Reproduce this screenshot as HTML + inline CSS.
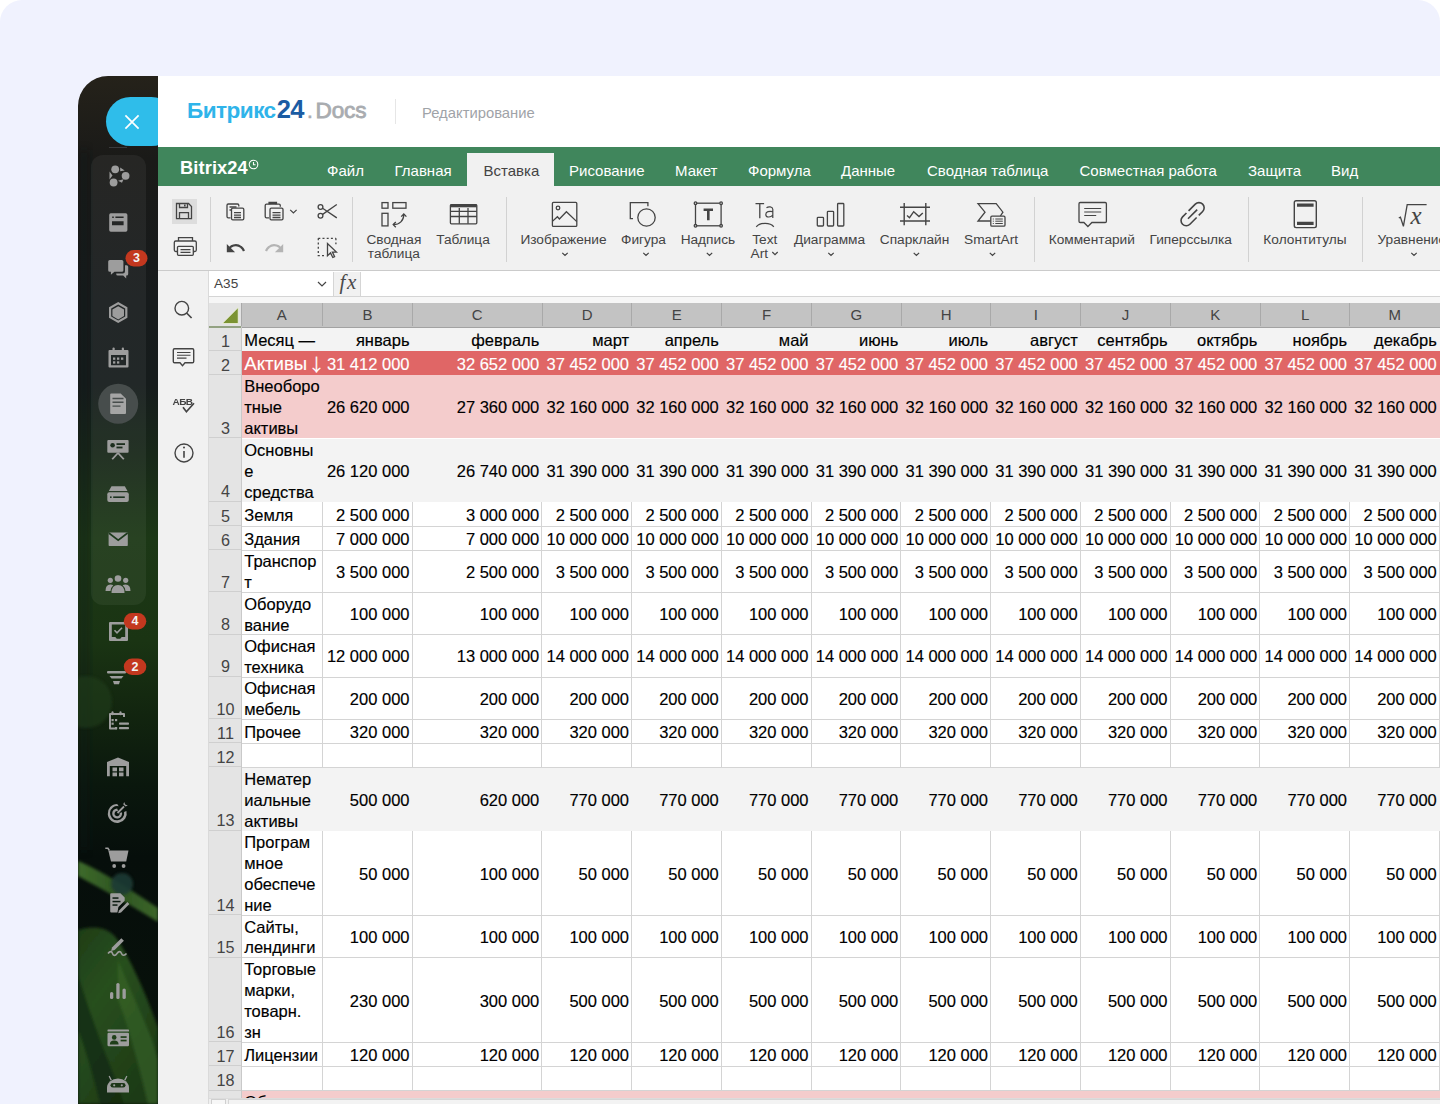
<!DOCTYPE html>
<html lang="ru">
<head>
<meta charset="utf-8">
<title>Битрикс24.Docs — Редактирование</title>
<style>
*{box-sizing:border-box}
html,body{margin:0;padding:0}
body{width:1440px;height:1104px;overflow:hidden;background:#fff;position:relative;font-family:"Liberation Sans",Arial,sans-serif}
.abs{position:absolute}
#bg{position:absolute;left:0;top:0;width:1440px;height:1104px;background:#f0f2fe;border-radius:22px 22px 0 0}
/* sidebar */
#sb{position:absolute;left:78px;top:76px;width:90px;height:1028px;border-top-left-radius:30px;overflow:hidden;
 background:#181b1d}
.badge{position:absolute;width:22px;height:16.5px;color:#f3f3f3;font-size:12.5px;font-weight:bold;text-align:center;line-height:16.5px}
#close{position:absolute;left:106px;top:97px;width:70px;height:49px;border-radius:24.5px;background:#2fbdea}
#app{position:absolute;left:158px;top:76px;width:1282px;height:1028px;background:#fff;overflow:hidden}
#hdr-logo{position:absolute;left:187px;top:94.5px;font-size:22.6px;font-weight:bold;white-space:nowrap;line-height:28px}
#hdr-sep{position:absolute;left:395px;top:99px;width:1px;height:25px;background:#e6e6e6}
#hdr-mode{position:absolute;left:422px;top:104px;font-size:14.8px;color:#9fa3a8;white-space:nowrap;line-height:18px}
#green{position:absolute;left:158px;top:147px;width:1282px;height:39px;background:#40865c}
#tb{position:absolute;left:158px;top:186px;width:1282px;height:85px;background:#f1f1f1;border-bottom:1px solid #cbcbcb}
.tab{position:absolute;top:161.5px;font-size:15px;color:#fff;white-space:nowrap;line-height:18px}
#tab-act{position:absolute;left:467px;top:152.5px;width:87px;height:34px;background:#f1f1f1}
.tlab{position:absolute;margin-top:1px;font-size:13.7px;color:#444;white-space:nowrap;line-height:13.6px;text-align:center}
.tsep{position:absolute;top:197px;width:1px;height:65px;background:#d2d2d2}
.chev{position:absolute}
svg{position:absolute;overflow:visible}
/* left panel */
#lp{position:absolute;left:158px;top:271px;width:51px;height:833px;background:#f1f1f1;border-right:1px solid #dadada}
/* formula bar */
#fbar{position:absolute;left:209px;top:271px;width:1231px;height:26px;background:#fff;border-bottom:1px solid #d5d5d5}
#namebox{position:absolute;left:209px;top:272px;width:125px;height:24px;background:#fff;border-right:1px solid #d5d5d5}
#fxbox{position:absolute;left:334px;top:272px;width:27px;height:24px;background:#f1f1f1;border-right:1px solid #d5d5d5}
#strip{position:absolute;left:209px;top:297px;width:1231px;height:5.5px;background:#f6f6f6}
/* grid */
#gridbg{position:absolute;left:241px;top:327px;width:1199px;height:777px;background:#fff}
.fill{position:absolute;left:241.25px;width:1199px}
.hl{position:absolute;left:241.25px;width:1199px;height:1px;background:#d4d4d4}
.vl{position:absolute;width:1px;background:#d4d4d4}
.ct{position:absolute;display:flex;align-items:center;font-size:16.5px;-webkit-text-stroke:0.15px currentColor;line-height:21.2px;white-space:nowrap;overflow:hidden;padding-top:3px}
.arr{font-family:'Noto Sans CJK JP',sans-serif;font-size:17.5px;line-height:10px;position:relative;top:0.5px;left:-4px}
.big{font-size:18.6px;line-height:10px}
.ct.m{padding-top:2px;line-height:20.9px}
.ct.l{justify-content:flex-start;padding-left:3px}
.ct.r{justify-content:flex-end;padding-right:3px}
#colhdr{position:absolute;left:209px;top:302.5px;width:1231px;height:25px;background:#c3c3c3;border-bottom:1.5px solid #a2a2a2}
.chd{position:absolute;top:302.5px;height:23.5px;border-left:1px solid #a9a9a9;text-align:center;font-size:15px;line-height:24px;color:#444}
#corner{position:absolute;left:209px;top:302.5px;width:32px;height:25px;background:#e3e3e3;border-bottom:2px solid #93a282}
#rowhdr{position:absolute;left:209px;top:327px;width:32px;height:777px;background:#e4e4e4}
.rh{position:absolute;left:209px;width:32px;border-bottom:1px solid #cfcfcf;display:flex;align-items:flex-end;justify-content:center;font-size:16.2px;color:#444;line-height:16px}
.rh span{padding-bottom:1.5px;padding-left:1px}
#hscroll{position:absolute;left:209px;top:1097.5px;width:1231px;height:7px;background:#f0f0f0;border-top:1px solid #dcdcdc}
#hsbtn{position:absolute;left:210.5px;top:1099px;width:15px;height:6px;background:#f7f7f7;border:1px solid #cfcfcf;border-bottom:none}
#hsthumb{position:absolute;left:227.7px;top:1099px;width:1213px;height:6px;background:#f3f3f3;border:1px solid #d6d6d6;border-bottom:none;border-right:none}
</style>
</head>
<body>
<div id="bg"></div>

<!-- left dark sidebar -->
<svg style="left:78px;top:76px" width="80" height="1028" viewBox="78 76 80 1028">
 <defs>
  <clipPath id="sbclip"><path d="M78 106a30 30 0 0 1 30-30H158V1104H78z"/></clipPath>
  <linearGradient id="sbg" x1="0" y1="76" x2="0" y2="1104" gradientUnits="userSpaceOnUse">
   <stop offset="0" stop-color="#25221a"/>
   <stop offset="0.08" stop-color="#1a1a18"/>
   <stop offset="0.22" stop-color="#171b1c"/>
   <stop offset="0.30" stop-color="#161c1c"/>
   <stop offset="0.37" stop-color="#182819"/>
   <stop offset="0.45" stop-color="#1c3816"/>
   <stop offset="0.55" stop-color="#1a3413"/>
   <stop offset="0.62" stop-color="#12250f"/>
   <stop offset="0.69" stop-color="#0a170d"/>
   <stop offset="0.76" stop-color="#060e0b"/>
   <stop offset="1" stop-color="#08120a"/>
  </linearGradient>
  <linearGradient id="leaf1" x1="0" y1="0" x2="1" y2="0">
   <stop offset="0" stop-color="#3d6a2a"/>
   <stop offset="0.5" stop-color="#2f5522"/>
   <stop offset="1" stop-color="#3b6529"/>
  </linearGradient>
  <linearGradient id="leaf2" x1="0" y1="0" x2="0.6" y2="1">
   <stop offset="0" stop-color="#1e3d17"/>
   <stop offset="0.4" stop-color="#284f1e"/>
   <stop offset="1" stop-color="#1d3b16"/>
  </linearGradient>
  <filter id="bl" x="-20%" y="-20%" width="140%" height="140%"><feGaussianBlur stdDeviation="1.5"/></filter>
  <filter id="bl2" x="-20%" y="-20%" width="140%" height="140%"><feGaussianBlur stdDeviation="4"/></filter>
 </defs>
 <g clip-path="url(#sbclip)">
  <rect x="78" y="76" width="80" height="1028" fill="url(#sbg)"/>
  <!-- left darker strip -->
  <rect x="78" y="150" width="12" height="700" fill="#0d1412" opacity="0.35" filter="url(#bl2)"/>
  <!-- subtle circle left -->
  
  <!-- leaves -->
  <g filter="url(#bl)">
   <path d="M78 861C100 870 130 889 158 908V922C134 907 104 890 78 876Z" fill="url(#leaf1)"/>
   <path d="M78 930C94 925 110 927 119 942 134 966 150 1004 158 1028V1104H78Z" fill="url(#leaf2)"/>
   <path d="M78 975C86 1000 96 1030 108 1060 114 1075 120 1090 124 1104H100C94 1080 86 1050 78 1030Z" fill="#112810" opacity="0.75"/>
   <path d="M118 960C128 985 140 1010 152 1040L158 1060V1104H148C140 1070 130 1030 118 1000Z" fill="#3a6a2a" opacity="0.55"/>
  </g>
  <circle cx="122" cy="884" r="11" fill="#1e3a34" opacity="0.9" filter="url(#bl)"/>
  <circle cx="86" cy="702" r="26" fill="#21401d" opacity="0.55" filter="url(#bl)"/>
  <!-- group panel -->
  <rect x="91" y="155" width="55" height="450" rx="12" fill="#ffffff" opacity="0.055"/>
  <!-- close-button shadow line -->
 </g>
 <!-- active circle -->
 <circle cx="118.2" cy="403.8" r="20" fill="#474d4c"/>
 <g fill="#9d9d9d" stroke="none">
  <!-- flow icon (176) -->
  <circle cx="115.2" cy="169.3" r="3.9"/>
  <circle cx="125.6" cy="175.8" r="3.9"/>
  <circle cx="113.6" cy="182.5" r="3.9"/>
  <path d="M109.5 171.5l3 4-3 4zM118 180.8l5.5-1.5-1.5 3.5zM120.2 167.5l4.5 3-4.5.7z"/>
  <!-- window icon (221) -->
  <path d="M110.8 213.3h15q1.6 0 1.6 1.6v15.2q0 1.6-1.6 1.6h-15q-1.6 0-1.6-1.6v-15.2q0-1.6 1.6-1.6zM112 221.3v4h11.6v-4zM112.2 216.4v1.6h1.6v-1.6zM115.4 216.4v1.6h8.2v-1.6z" fill-rule="evenodd"/>
  <!-- chat (267) -->
  <path d="M109.8 260h12q1.6 0 1.6 1.6v8.6q0 1.6-1.6 1.6h-7.3l-3.6 3v-3h-1.1q-1.6 0-1.6-1.6v-8.6q0-1.6 1.6-1.6z"/>
  <path d="M125 265.2h1.6q1.6 0 1.6 1.6v7.2q0 1.6-1.6 1.6h-.4v2.9l-3-2.9h-5.4q-1.6 0-1.6-1.6v-.5h6.6q2.2 0 2.2-2.2z"/>
  <!-- hexagon (312) -->
  <path d="M118.2 302l9.2 5.2v10.5l-9.2 5.2-9.2-5.2v-10.5zM118.2 304.6l-7 4v8l7 4 7-4v-8z" fill-rule="evenodd"/>
  <path d="M118.2 306.2l5.8 3.3v6.6l-5.8 3.3-5.8-3.3v-6.6z"/>
  <!-- calendar (357) -->
  <path d="M109.5 350h18q1 0 1 1v15.5q0 1-1 1h-18q-1 0-1-1v-15.5q0-1 1-1zM111 355v10.3h15V355z" fill-rule="evenodd"/>
  <rect x="112.5" y="347.5" width="2.2" height="4.5" rx="1"/>
  <rect x="121.8" y="347.5" width="2.2" height="4.5" rx="1"/>
  <rect x="113" y="357.5" width="2.3" height="2.3"/><rect x="117" y="357.5" width="2.3" height="2.3"/><rect x="121" y="357.5" width="2.3" height="2.3"/>
  <rect x="113" y="361.3" width="2.3" height="2.3"/><rect x="117" y="361.3" width="2.3" height="2.3"/>
  <!-- doc (403) -->
  <path d="M111.2 393.5h9.5l5.3 5.3v14.2q0 1-1 1h-13.8q-1 0-1-1v-18.5q0-1 1-1z" fill="#a5a5a5"/>
  <path d="M112.5 398.5h11M112.5 402.3h11M112.5 406.1h8" stroke="#474d4c" stroke-width="1.4"/>
  <!-- presentation (449) -->
  <rect x="107.3" y="440" width="21.3" height="12.8" rx="1"/>
  <circle cx="112.6" cy="445.2" r="2.3" fill="#1c2e1e"/>
  <rect x="116.5" y="443.2" width="8.5" height="1.8" fill="#1c2e1e"/>
  <rect x="116.5" y="446.6" width="6" height="1.8" fill="#1c2e1e"/>
  <path d="M117.3 452.5l-5.8 6.2 1.4 1.1 5.1-5.6 5.1 5.6 1.4-1.1-5.8-6.2z"/>
  <!-- drive (494) -->
  <path d="M111.5 486.3h13.3l2.7 4.6h-18.7z"/>
  <rect x="107.3" y="492.3" width="21.5" height="9.8" rx="2"/>
  <rect x="110" y="496.4" width="1.6" height="1.6" fill="#1c3320"/>
  <rect x="113.2" y="496.4" width="11.6" height="1.6" fill="#1c3320"/>
  <!-- mail (539) -->
  <rect x="108.6" y="532.4" width="19.2" height="13.6" rx="0.8"/>
  <path d="M108.8 533l9.4 7.2 9.4-7.2" stroke="#1d3a1c" stroke-width="1.6" fill="none"/>
  <!-- group (584) -->
  <circle cx="118" cy="578.5" r="3.3"/><circle cx="110.3" cy="580.3" r="2.6"/><circle cx="125.7" cy="580.3" r="2.6"/>
  <path d="M111.5 593q0-8 6.5-8t6.5 8z"/>
  <path d="M105.5 591q0-6.5 4.8-6.5 2 0 3 .8-2.8 2.6-2.8 5.7z"/>
  <path d="M130.5 591q0-6.5-4.8-6.5-2 0-3 .8 2.8 2.6 2.8 5.7z"/>
  <!-- tasks (631) -->
  <path d="M110 622h17q1 0 1 1v17q0 1-1 1h-17q-1 0-1-1v-17q0-1 1-1zM111.8 624.5v12.5h3.5l1.5 1.7h3.4l1.5-1.7h3.5v-12.5z" fill-rule="evenodd"/>
  <path d="M114.5 630.3l2.5 2.5 5-5" stroke="#9d9d9d" stroke-width="1.6" fill="none"/>
  <!-- funnel (678) -->
  <rect x="107" y="671" width="19" height="2.6" rx="1"/>
  <path d="M109.5 676h14l-2 2.6h-10z"/>
  <path d="M113 681h7l-1 3.2h-5z"/>
  <!-- calendar list (721) -->
  <path d="M109 714q0-1 1-1h14q1 0 1 1v3h-2v-2h-12v12.5h6v2h-7q-1 0-1-1z"/>
  <rect x="111.5" y="711.2" width="2" height="4" rx="1"/><rect x="119.5" y="711.2" width="2" height="4" rx="1"/>
  <rect x="111.5" y="719" width="2.2" height="2.2"/><rect x="115" y="719" width="2.2" height="2.2"/>
  <rect x="111.5" y="722.6" width="2.2" height="2.2"/>
  <rect x="119" y="722.5" width="10" height="2.2" rx=".8"/><rect x="119" y="727" width="10" height="2.2" rx=".8"/><rect x="115" y="727" width="2.2" height="2.2"/>
  <!-- warehouse (767) -->
  <path d="M118 757.4l11 4.6v14.3h-2.8v-10.3h-16.4v10.3H107V762z"/>
  <rect x="112.5" y="767.5" width="4.5" height="3.8"/><rect x="119" y="767.5" width="4.5" height="3.8"/>
  <rect x="112.5" y="772.5" width="4.5" height="3.8"/><rect x="119" y="772.5" width="4.5" height="3.8"/>
  <!-- target (812) -->
  <path d="M117.2 804a9.5 9.5 0 1 0 9.2 7l-2.3.9a7.1 7.1 0 1 1-5.4-5.6zM117.2 808.5a5 5 0 1 0 4.8 3.7l-2.3.9a2.6 2.6 0 1 1-1.6-1.9z"/>
  <path d="M117.5 813l6.5-6.5" stroke="#9d9d9d" stroke-width="1.8"/>
  <path d="M123.2 804.2l1-2.2 1 2.6 2.6 1-2.2 1z"/>
  <!-- cart (857) -->
  <path d="M105.3 848.2h2.6l1.4 2.2" stroke="#9d9d9d" stroke-width="1.6" fill="none"/>
  <path d="M108.3 850.6h20.2l-2.3 11h-15.2z"/>
  <circle cx="114.2" cy="866" r="1.9"/><circle cx="123.6" cy="866" r="1.9"/>
  <!-- doc edit (903) -->
  <path d="M111.2 893.2h9.2l4.3 4.3v3.2l-6.3 6.4-1 5.3h-6.2q-1 0-1-1v-17.2q0-1 1-1z"/>
  <rect x="112.5" y="897.3" width="6" height="1.5" fill="#0b1a10"/>
  <rect x="112.5" y="900.8" width="8" height="1.5" fill="#0b1a10"/>
  <rect x="112.5" y="904.3" width="5" height="1.5" fill="#0b1a10"/>
  <path d="M119 910.5l8.4-8.4 2 2-8.4 8.4-2.8.8z"/>
  <!-- sign (948) -->
  <path d="M112 947.5l9.3-9.3 2.6 2.6-9.3 9.3-3.5.9z"/>
  <path d="M108 953.5c2-2.5 3.8-2.5 4.5 0s2.8 2.5 4.5 0 3.5-2.5 4.5 0 3.3 2 5 0" stroke="#9d9d9d" stroke-width="1.6" fill="none"/>
  <!-- chart (993) -->
  <rect x="110" y="992" width="3.3" height="7" rx="1.6"/><rect x="116.3" y="983" width="3.3" height="16" rx="1.6"/><rect x="122.5" y="988.5" width="3.3" height="10.5" rx="1.6"/>
  <!-- id card (1038) -->
  <rect x="107.5" y="1029.6" width="21.5" height="2" rx=".6"/>
  <rect x="107.5" y="1032.8" width="21.5" height="13.4" rx="1.2"/>
  <circle cx="114.2" cy="1037.4" r="2.3" fill="#1f3f19"/>
  <path d="M109.8 1044.6q0-4 4.4-4t4.4 4z" fill="#1f3f19"/>
  <rect x="120.6" y="1036.2" width="6" height="1.7" fill="#1f3f19"/>
  <rect x="120.6" y="1039.7" width="6" height="1.7" fill="#1f3f19"/>
  <!-- robot (1084) -->
  <path d="M107 1092.5V1087.5A11 9 0 0 1 129 1087.5V1092.5Z"/>
  <path d="M110.6 1080.5l-2-4.3 1.1-.5 2.2 4.2zM125.4 1080.5l2-4.3-1.1-.5-2.2 4.2z"/>
  <rect x="110.5" y="1083" width="15" height="4.6" rx="2.3" fill="#1c3517"/>
  <circle cx="114.2" cy="1085.3" r="1.1"/><circle cx="121.8" cy="1085.3" r="1.1"/>
 </g>
 <!-- badges -->
 <g>
  <rect x="125.5" y="250" width="22" height="16.5" rx="8.25" fill="#c3381f"/>
  <rect x="123.8" y="613" width="22.5" height="16.5" rx="8.25" fill="#c3381f"/>
  <rect x="123.8" y="658.5" width="22.5" height="16.5" rx="8.25" fill="#c3381f"/>
 </g>
</svg>
<div class="badge" style="left:125.5px;top:250px">3</div>
<div class="badge" style="left:123.8px;top:613px;width:22.5px">4</div>
<div class="badge" style="left:123.8px;top:658.5px;width:22.5px">2</div>

<div id="close"></div>
<svg style="left:124.5px;top:115px" width="14" height="14" viewBox="0 0 14 14"><path d="M0.4 0.4L13.6 13.6M13.6 0.4L0.4 13.6" stroke="#fff" stroke-width="1.7" fill="none"/></svg>
<div class="abs" style="left:109px;top:146.5px;width:18px;height:1px;background:#3a3b3c"></div>

<div id="app"></div>

<!-- header -->
<div id="hdr-logo"><span style="color:#2fb4ea;letter-spacing:-0.55px">Битрикс</span><span style="color:#1b5ca3;font-size:25.5px;letter-spacing:-0.6px;margin-left:1px">24</span><span style="color:#a9acb0;font-weight:normal;-webkit-text-stroke:0.4px #a9acb0;margin-left:3px">.</span><span style="color:#a9acb0;font-weight:normal;-webkit-text-stroke:0.8px #a9acb0;margin-left:2.5px;letter-spacing:-0.2px">Docs</span></div>
<div id="hdr-sep"></div>
<div id="hdr-mode">Редактирование</div>

<!-- green tab bar -->
<div id="green"></div>
<div id="tab-act"></div>
<div class="tab" style="left:180px;font-weight:bold;font-size:18.3px;top:158.5px;letter-spacing:0.1px">Bitrix24</div>
<div class="tab" style="left:327px">Файл</div>
<div class="tab" style="left:394.5px">Главная</div>
<div class="tab" style="left:483.5px;color:#444">Вставка</div>
<div class="tab" style="left:569px">Рисование</div>
<div class="tab" style="left:675px">Макет</div>
<div class="tab" style="left:748px">Формула</div>
<div class="tab" style="left:841px">Данные</div>
<div class="tab" style="left:927px">Сводная таблица</div>
<div class="tab" style="left:1079.5px">Совместная работа</div>
<div class="tab" style="left:1248px">Защита</div>
<div class="tab" style="left:1331px">Вид</div>

<!-- toolbar -->
<div id="tb"></div>
<!-- toolbar small buttons -->
<div class="abs" style="left:172px;top:198.5px;width:25px;height:25px;background:#dddddd"></div>
<svg style="left:0;top:0" width="1440" height="300" viewBox="0 0 1440 300" fill="none" stroke="#444" stroke-width="1.3">
 <!-- save -->
 <path d="M176.5 203.5h12l3 3v12.2h-15z"/>
 <path d="M179.5 203.5v4h8v-4M179.5 218.7v-6h9v6"/>
 <path d="M184.8 204.5v2" stroke-width="1.6"/>
 <!-- print -->
 <path d="M178.5 241v-3.3h14v3.3"/>
 <path d="M177.2 251.5h-1.4q-1.5 0-1.5-1.5v-7.5q0-1.5 1.5-1.5h19q1.5 0 1.5 1.5v7.5q0 1.5-1.5 1.5h-1.4"/>
 <rect x="177.5" y="246.3" width="15.8" height="9" rx="1"/>
 <path d="M180.5 249.7h10M180.5 252.3h10"/>
 <!-- copy -->
 <path d="M230.5 217.8h-2.2q-1.3 0-1.3-1.3v-11.2q0-1.3 1.3-1.3h9.2q1.3 0 1.3 1.3v1.2"/>
 <rect x="231.5" y="208.2" width="12.3" height="11.6" rx="1.3"/>
 <path d="M229.5 207h7M229.5 210h1.5M234 212.6h7M234 215.1h7M234 217.5h7"/>
 <!-- paste -->
 <path d="M269 217.8h-2.5q-1.3 0-1.3-1.3v-11q0-1.3 1.3-1.3h12.5q1.3 0 1.3 1.3v1.3"/>
 <path d="M269.5 204.2v-1.3h6.5v1.3" stroke-width="2.2"/>
 <rect x="270" y="208.2" width="13" height="11.6" rx="1.3"/>
 <path d="M272.5 212.6h8M272.5 215.1h8M272.5 217.5h8"/>
 <path d="M290.2 209.8l3.2 3.2 3.2-3.2" stroke-width="1.2"/>
 <!-- cut -->
 <circle cx="320.5" cy="207" r="2.4"/>
 <circle cx="320.5" cy="215.7" r="2.4"/>
 <path d="M322.6 208.3l14.2 9.6M322.6 214.4l14.2-9.9"/>
 <!-- undo -->
 <path d="M228.5 250.5c1-5 8-7 12.5-3.5 1.4 1 2.4 2.5 3 4" stroke-width="2.2"/>
 <path d="M226.8 244v8.2h8.3z" fill="#444" stroke="none"/>
 <!-- redo -->
 <path d="M281.5 250.5c-1-5-8-7-12.5-3.5-1.4 1-2.4 2.5-3 4" stroke="#b4b4b4" stroke-width="2.2"/>
 <path d="M283.2 244v8.2h-8.3z" fill="#b4b4b4" stroke="none"/>
 <!-- select -->
 <path d="M318.3 238.3h17.6M318.3 238.3v17.3h8M335.9 238.3v6" stroke-dasharray="2 2.2"/>
 <path d="M327.5 243.5v12.2l3-2.8 2.3 4.6 1.8-.9-2.2-4.5h4z" fill="#f1f1f1"/>
 <!-- pivot (Сводная таблица) -->
 <rect x="382" y="202.6" width="6" height="5.6"/>
 <rect x="392.8" y="202.6" width="13.2" height="5.6"/>
 <rect x="382" y="213.3" width="6" height="12.6"/>
 <path d="M393.5 224.6c6 0 10.3-3.8 10.3-10.3"/>
 <path d="M395.8 222l-2.6 2.6 2.6 2.6M401.2 216.6l2.6-2.6 2.6 2.6"/>
 <!-- table -->
 <rect x="450.4" y="204.6" width="26.4" height="19.2" rx="1"/>
 <path d="M450.4 205.8h26.4" stroke-width="3"/>
 <path d="M450.4 211.3h26.4M450.4 216.5h26.4M459.3 208v15.8M468 208v15.8"/>
 <!-- image -->
 <rect x="552.4" y="202.4" width="24.4" height="24" rx="1"/>
 <circle cx="558" cy="208" r="1.8"/>
 <path d="M552.4 221.4l5-4.7 2 2.3 7-7.3 10.4 9.9"/>
 <!-- shape -->
 <path d="M633 218.6h-2.7v-16h17.6v3.6"/>
 <circle cx="646.5" cy="217.5" r="8.7"/>
 <!-- text box -->
 <rect x="695.5" y="203.2" width="25.6" height="22.6"/>
 <g fill="#f1f1f1"><circle cx="695.5" cy="203.2" r="1.3"/><circle cx="721.1" cy="203.2" r="1.3"/><circle cx="695.5" cy="225.8" r="1.3"/><circle cx="721.1" cy="225.8" r="1.3"/></g>
 <path d="M703.6 209.8h9.4M708.3 209.8v10.4" stroke-width="2.6"/>
 <!-- text art -->
 <path d="M755.5 203.6h8.6M759.8 203.6v14.6"/>
 <path d="M766.5 207.8c2-1.5 6-1.3 6.3 1.4v8.8M772.8 211.6c-3.5-.8-7-.1-7 2.8 0 3.2 4.5 3.5 7 .7" stroke-width="1.2"/>
 <path d="M756.3 226.8c3.5-4.5 14-4.5 17.5 0"/>
 <!-- chart -->
 <rect x="817.3" y="217.3" width="6.2" height="8.7" rx=".8"/>
 <rect x="827.4" y="211.3" width="6.2" height="14.7" rx=".8"/>
 <rect x="837.6" y="203.5" width="6.2" height="22.5" rx=".8"/>
 <!-- sparkline -->
 <path d="M900 207.3h30M900 221h30M904.2 203v22.2M925.8 203v22.2" stroke-width="1.4"/>
 <path d="M907 215.5l2.5 2.2 4.2-6 5.3 4.8 3.8-3.6" stroke-width="1.4"/>
 <!-- smartart -->
 <path d="M990.5 221h-12.5l7-8.8-7-8.6h18.2l6.7 8.6-2.5 3.8"/>
 <rect x="990.8" y="216.2" width="14.2" height="10" rx="1.2"/>
 <path d="M992.8 219h1M995.3 219h7.5M992.8 221.2h1M995.3 221.2h7.5M992.8 223.5h1M995.3 223.5h7.5" stroke-width="1"/>
 <!-- comment -->
 <path d="M1080.2 202.5h25q1.2 0 1.2 1.2v17.6q0 1.2-1.2 1.2h-13.3l-4 4-4-4h-3.7q-1.2 0-1.2-1.2v-17.6q0-1.2 1.2-1.2z"/>
 <path d="M1084.2 208.5h17M1084.2 212h17M1084.2 215.5h12" stroke-width="1.2"/>
 <!-- link -->
 <g transform="translate(1192.6 214.2) rotate(-45)" stroke-width="1.6">
  <path d="M-0.5 -5.2H9A5.2 5.2 0 0 1 9 5.2H3.5"/>
  <path d="M0.5 5.2H-9A5.2 5.2 0 0 1 -9 -5.2H-3.5"/>
  <path d="M-6.5 0H6.5"/>
 </g>
 <!-- header footer -->
 <rect x="1294.3" y="200.8" width="22" height="26.8" rx="1.8" stroke-width="1.4"/>
 <path d="M1297 205.2h16.6M1297 223.4h16.6" stroke-width="3.2"/>
 <!-- equation -->
 <path d="M1398.8 218l1.6-.9 3 9.2 3.8-21.6h19.4" stroke-width="1.3"/>
 <!-- chevrons under labels -->
 <g stroke-width="1.2">
 <path d="M562.3 252.8l2.7 2.7 2.7-2.7"/>
 <path d="M643.3 252.8l2.7 2.7 2.7-2.7"/>
 <path d="M706.8 252.8l2.7 2.7 2.7-2.7"/>
 <path d="M772.3 252l2.7 2.7 2.7-2.7"/>
 <path d="M828.3 252.8l2.7 2.7 2.7-2.7"/>
 <path d="M913.7 252.8l2.7 2.7 2.7-2.7"/>
 <path d="M989.8 252.8l2.7 2.7 2.7-2.7"/>
 <path d="M1411.3 252.8l2.7 2.7 2.7-2.7"/>
 </g>
</svg>
<div class="abs" style="left:1410.5px;top:203px;font-family:'Liberation Serif',serif;font-style:italic;font-size:25px;color:#444;line-height:26px">x</div>
<!-- separators -->
<div class="tsep" style="left:209.5px"></div>
<div class="tsep" style="left:351.5px"></div>
<div class="tsep" style="left:505.5px"></div>
<div class="tsep" style="left:1034px"></div>
<div class="tsep" style="left:1248px"></div>
<div class="tsep" style="left:1362px"></div>
<!-- labels -->
<div class="tlab" style="left:333.9px;width:120px;top:232.2px">Сводная<br>таблица</div>
<div class="tlab" style="left:403px;width:120px;top:232.2px">Таблица</div>
<div class="tlab" style="left:503.5px;width:120px;top:232.2px">Изображение</div>
<div class="tlab" style="left:583.5px;width:120px;top:232.2px">Фигура</div>
<div class="tlab" style="left:647.9px;width:120px;top:232.2px">Надпись</div>
<div class="tlab" style="left:704.75px;width:120px;top:232.2px">Text</div>
<div class="tlab" style="left:750.5px;top:245.8px;text-align:left">Art</div>
<div class="tlab" style="left:769.5px;width:120px;top:232.2px">Диаграмма</div>
<div class="tlab" style="left:854.5px;width:120px;top:232.2px">Спарклайн</div>
<div class="tlab" style="left:931px;width:120px;top:232.2px">SmartArt</div>
<div class="tlab" style="left:1031.8px;width:120px;top:232.2px">Комментарий</div>
<div class="tlab" style="left:1130.7px;width:120px;top:232.2px">Гиперссылка</div>
<div class="tlab" style="left:1245px;width:120px;top:232.2px">Колонтитулы</div>
<div class="tlab" style="left:1377.5px;top:232.2px;text-align:left">Уравнение</div>


<!-- left panel -->
<div id="lp"></div>

<!-- formula bar -->
<div id="fbar"></div>
<div id="namebox"></div>
<div id="fxbox"></div>
<div class="abs" style="left:214px;top:276px;font-size:13.6px;color:#444;line-height:16px">A35</div>
<div class="abs" style="left:339.5px;top:270px;font-family:'Liberation Serif',serif;font-style:italic;font-size:21px;color:#4a4a4a;line-height:24px;letter-spacing:1.6px">fx</div>
<div id="strip"></div>

<!-- grid -->
<div id="gridbg"></div>
<div class="fill" style="top:327px;height:24.3px;background:#f3f3f3"></div>
<div class="fill" style="top:351.3px;height:23.8px;background:#e06666"></div>
<div class="fill" style="top:375.1px;height:63.4px;background:#f4cccc"></div>
<div class="fill" style="top:438.5px;height:63.3px;background:#f3f3f3"></div>
<div class="fill" style="top:767.4px;height:63.6px;background:#f3f3f3"></div>
<div class="fill" style="top:1090.6px;height:42.3px;background:#f4cccc"></div>
<div class="hl" style="top:525.8px"></div>
<div class="hl" style="top:549.8px"></div>
<div class="hl" style="top:592px"></div>
<div class="hl" style="top:634.2px"></div>
<div class="hl" style="top:676.5px"></div>
<div class="hl" style="top:718.9px"></div>
<div class="hl" style="top:743px"></div>
<div class="hl" style="top:766.9px"></div>
<div class="hl" style="top:914.8px"></div>
<div class="hl" style="top:957.1px"></div>
<div class="hl" style="top:1041.9px"></div>
<div class="hl" style="top:1066px"></div>
<div class="hl" style="top:1090.1px"></div>
<div class="vl" style="left:321.5px;top:501.8px;height:265.6px"></div>
<div class="vl" style="left:321.5px;top:831px;height:259.6px"></div>
<div class="vl" style="left:411.5px;top:501.8px;height:265.6px"></div>
<div class="vl" style="left:411.5px;top:831px;height:259.6px"></div>
<div class="vl" style="left:541.3px;top:501.8px;height:265.6px"></div>
<div class="vl" style="left:541.3px;top:831px;height:259.6px"></div>
<div class="vl" style="left:631.05px;top:501.8px;height:265.6px"></div>
<div class="vl" style="left:631.05px;top:831px;height:259.6px"></div>
<div class="vl" style="left:720.8px;top:501.8px;height:265.6px"></div>
<div class="vl" style="left:720.8px;top:831px;height:259.6px"></div>
<div class="vl" style="left:810.55px;top:501.8px;height:265.6px"></div>
<div class="vl" style="left:810.55px;top:831px;height:259.6px"></div>
<div class="vl" style="left:900.3px;top:501.8px;height:265.6px"></div>
<div class="vl" style="left:900.3px;top:831px;height:259.6px"></div>
<div class="vl" style="left:990.05px;top:501.8px;height:265.6px"></div>
<div class="vl" style="left:990.05px;top:831px;height:259.6px"></div>
<div class="vl" style="left:1079.8px;top:501.8px;height:265.6px"></div>
<div class="vl" style="left:1079.8px;top:831px;height:259.6px"></div>
<div class="vl" style="left:1169.55px;top:501.8px;height:265.6px"></div>
<div class="vl" style="left:1169.55px;top:831px;height:259.6px"></div>
<div class="vl" style="left:1259.3px;top:501.8px;height:265.6px"></div>
<div class="vl" style="left:1259.3px;top:831px;height:259.6px"></div>
<div class="vl" style="left:1349.05px;top:501.8px;height:265.6px"></div>
<div class="vl" style="left:1349.05px;top:831px;height:259.6px"></div>
<div class="vl" style="left:1438.8px;top:501.8px;height:265.6px"></div>
<div class="vl" style="left:1438.8px;top:831px;height:259.6px"></div>
<div class="ct l" style="left:241.25px;top:327px;height:24.3px;width:81.25px;color:#000"><span>Месяц —</span></div>
<div class="ct r" style="left:322.5px;top:327px;height:24.3px;width:90px;color:#000"><span>январь</span></div>
<div class="ct r" style="left:412.5px;top:327px;height:24.3px;width:129.8px;color:#000"><span>февраль</span></div>
<div class="ct r" style="left:542.3px;top:327px;height:24.3px;width:89.75px;color:#000"><span>март</span></div>
<div class="ct r" style="left:632.05px;top:327px;height:24.3px;width:89.75px;color:#000"><span>апрель</span></div>
<div class="ct r" style="left:721.8px;top:327px;height:24.3px;width:89.75px;color:#000"><span>май</span></div>
<div class="ct r" style="left:811.55px;top:327px;height:24.3px;width:89.75px;color:#000"><span>июнь</span></div>
<div class="ct r" style="left:901.3px;top:327px;height:24.3px;width:89.75px;color:#000"><span>июль</span></div>
<div class="ct r" style="left:991.05px;top:327px;height:24.3px;width:89.75px;color:#000"><span>август</span></div>
<div class="ct r" style="left:1080.8px;top:327px;height:24.3px;width:89.75px;color:#000"><span>сентябрь</span></div>
<div class="ct r" style="left:1170.55px;top:327px;height:24.3px;width:89.75px;color:#000"><span>октябрь</span></div>
<div class="ct r" style="left:1260.3px;top:327px;height:24.3px;width:89.75px;color:#000"><span>ноябрь</span></div>
<div class="ct r" style="left:1350.05px;top:327px;height:24.3px;width:89.75px;color:#000"><span>декабрь</span></div>
<div class="ct l" style="left:241.25px;top:351.3px;height:23.8px;width:81.25px;color:#fff"><span><span class="big">Активы</span> <span class="arr">↓</span></span></div>
<div class="ct r" style="left:322.5px;top:351.3px;height:23.8px;width:90px;color:#fff"><span>31 412 000</span></div>
<div class="ct r" style="left:412.5px;top:351.3px;height:23.8px;width:129.8px;color:#fff"><span>32 652 000</span></div>
<div class="ct r" style="left:542.3px;top:351.3px;height:23.8px;width:89.75px;color:#fff"><span>37 452 000</span></div>
<div class="ct r" style="left:632.05px;top:351.3px;height:23.8px;width:89.75px;color:#fff"><span>37 452 000</span></div>
<div class="ct r" style="left:721.8px;top:351.3px;height:23.8px;width:89.75px;color:#fff"><span>37 452 000</span></div>
<div class="ct r" style="left:811.55px;top:351.3px;height:23.8px;width:89.75px;color:#fff"><span>37 452 000</span></div>
<div class="ct r" style="left:901.3px;top:351.3px;height:23.8px;width:89.75px;color:#fff"><span>37 452 000</span></div>
<div class="ct r" style="left:991.05px;top:351.3px;height:23.8px;width:89.75px;color:#fff"><span>37 452 000</span></div>
<div class="ct r" style="left:1080.8px;top:351.3px;height:23.8px;width:89.75px;color:#fff"><span>37 452 000</span></div>
<div class="ct r" style="left:1170.55px;top:351.3px;height:23.8px;width:89.75px;color:#fff"><span>37 452 000</span></div>
<div class="ct r" style="left:1260.3px;top:351.3px;height:23.8px;width:89.75px;color:#fff"><span>37 452 000</span></div>
<div class="ct r" style="left:1350.05px;top:351.3px;height:23.8px;width:89.75px;color:#fff"><span>37 452 000</span></div>
<div class="ct l m" style="left:241.25px;top:375.1px;height:63.4px;width:81.25px;color:#000"><span>Внеоборо<br>тные<br>активы</span></div>
<div class="ct r m" style="left:322.5px;top:375.1px;height:63.4px;width:90px;color:#000"><span>26 620 000</span></div>
<div class="ct r m" style="left:412.5px;top:375.1px;height:63.4px;width:129.8px;color:#000"><span>27 360 000</span></div>
<div class="ct r m" style="left:542.3px;top:375.1px;height:63.4px;width:89.75px;color:#000"><span>32 160 000</span></div>
<div class="ct r m" style="left:632.05px;top:375.1px;height:63.4px;width:89.75px;color:#000"><span>32 160 000</span></div>
<div class="ct r m" style="left:721.8px;top:375.1px;height:63.4px;width:89.75px;color:#000"><span>32 160 000</span></div>
<div class="ct r m" style="left:811.55px;top:375.1px;height:63.4px;width:89.75px;color:#000"><span>32 160 000</span></div>
<div class="ct r m" style="left:901.3px;top:375.1px;height:63.4px;width:89.75px;color:#000"><span>32 160 000</span></div>
<div class="ct r m" style="left:991.05px;top:375.1px;height:63.4px;width:89.75px;color:#000"><span>32 160 000</span></div>
<div class="ct r m" style="left:1080.8px;top:375.1px;height:63.4px;width:89.75px;color:#000"><span>32 160 000</span></div>
<div class="ct r m" style="left:1170.55px;top:375.1px;height:63.4px;width:89.75px;color:#000"><span>32 160 000</span></div>
<div class="ct r m" style="left:1260.3px;top:375.1px;height:63.4px;width:89.75px;color:#000"><span>32 160 000</span></div>
<div class="ct r m" style="left:1350.05px;top:375.1px;height:63.4px;width:89.75px;color:#000"><span>32 160 000</span></div>
<div class="ct l m" style="left:241.25px;top:438.5px;height:63.3px;width:81.25px;color:#000"><span>Основны<br>е<br>средства</span></div>
<div class="ct r m" style="left:322.5px;top:438.5px;height:63.3px;width:90px;color:#000"><span>26 120 000</span></div>
<div class="ct r m" style="left:412.5px;top:438.5px;height:63.3px;width:129.8px;color:#000"><span>26 740 000</span></div>
<div class="ct r m" style="left:542.3px;top:438.5px;height:63.3px;width:89.75px;color:#000"><span>31 390 000</span></div>
<div class="ct r m" style="left:632.05px;top:438.5px;height:63.3px;width:89.75px;color:#000"><span>31 390 000</span></div>
<div class="ct r m" style="left:721.8px;top:438.5px;height:63.3px;width:89.75px;color:#000"><span>31 390 000</span></div>
<div class="ct r m" style="left:811.55px;top:438.5px;height:63.3px;width:89.75px;color:#000"><span>31 390 000</span></div>
<div class="ct r m" style="left:901.3px;top:438.5px;height:63.3px;width:89.75px;color:#000"><span>31 390 000</span></div>
<div class="ct r m" style="left:991.05px;top:438.5px;height:63.3px;width:89.75px;color:#000"><span>31 390 000</span></div>
<div class="ct r m" style="left:1080.8px;top:438.5px;height:63.3px;width:89.75px;color:#000"><span>31 390 000</span></div>
<div class="ct r m" style="left:1170.55px;top:438.5px;height:63.3px;width:89.75px;color:#000"><span>31 390 000</span></div>
<div class="ct r m" style="left:1260.3px;top:438.5px;height:63.3px;width:89.75px;color:#000"><span>31 390 000</span></div>
<div class="ct r m" style="left:1350.05px;top:438.5px;height:63.3px;width:89.75px;color:#000"><span>31 390 000</span></div>
<div class="ct l" style="left:241.25px;top:501.8px;height:24.5px;width:81.25px;color:#000"><span>Земля</span></div>
<div class="ct r" style="left:322.5px;top:501.8px;height:24.5px;width:90px;color:#000"><span>2 500 000</span></div>
<div class="ct r" style="left:412.5px;top:501.8px;height:24.5px;width:129.8px;color:#000"><span>3 000 000</span></div>
<div class="ct r" style="left:542.3px;top:501.8px;height:24.5px;width:89.75px;color:#000"><span>2 500 000</span></div>
<div class="ct r" style="left:632.05px;top:501.8px;height:24.5px;width:89.75px;color:#000"><span>2 500 000</span></div>
<div class="ct r" style="left:721.8px;top:501.8px;height:24.5px;width:89.75px;color:#000"><span>2 500 000</span></div>
<div class="ct r" style="left:811.55px;top:501.8px;height:24.5px;width:89.75px;color:#000"><span>2 500 000</span></div>
<div class="ct r" style="left:901.3px;top:501.8px;height:24.5px;width:89.75px;color:#000"><span>2 500 000</span></div>
<div class="ct r" style="left:991.05px;top:501.8px;height:24.5px;width:89.75px;color:#000"><span>2 500 000</span></div>
<div class="ct r" style="left:1080.8px;top:501.8px;height:24.5px;width:89.75px;color:#000"><span>2 500 000</span></div>
<div class="ct r" style="left:1170.55px;top:501.8px;height:24.5px;width:89.75px;color:#000"><span>2 500 000</span></div>
<div class="ct r" style="left:1260.3px;top:501.8px;height:24.5px;width:89.75px;color:#000"><span>2 500 000</span></div>
<div class="ct r" style="left:1350.05px;top:501.8px;height:24.5px;width:89.75px;color:#000"><span>2 500 000</span></div>
<div class="ct l" style="left:241.25px;top:526.3px;height:24px;width:81.25px;color:#000"><span>Здания</span></div>
<div class="ct r" style="left:322.5px;top:526.3px;height:24px;width:90px;color:#000"><span>7 000 000</span></div>
<div class="ct r" style="left:412.5px;top:526.3px;height:24px;width:129.8px;color:#000"><span>7 000 000</span></div>
<div class="ct r" style="left:542.3px;top:526.3px;height:24px;width:89.75px;color:#000"><span>10 000 000</span></div>
<div class="ct r" style="left:632.05px;top:526.3px;height:24px;width:89.75px;color:#000"><span>10 000 000</span></div>
<div class="ct r" style="left:721.8px;top:526.3px;height:24px;width:89.75px;color:#000"><span>10 000 000</span></div>
<div class="ct r" style="left:811.55px;top:526.3px;height:24px;width:89.75px;color:#000"><span>10 000 000</span></div>
<div class="ct r" style="left:901.3px;top:526.3px;height:24px;width:89.75px;color:#000"><span>10 000 000</span></div>
<div class="ct r" style="left:991.05px;top:526.3px;height:24px;width:89.75px;color:#000"><span>10 000 000</span></div>
<div class="ct r" style="left:1080.8px;top:526.3px;height:24px;width:89.75px;color:#000"><span>10 000 000</span></div>
<div class="ct r" style="left:1170.55px;top:526.3px;height:24px;width:89.75px;color:#000"><span>10 000 000</span></div>
<div class="ct r" style="left:1260.3px;top:526.3px;height:24px;width:89.75px;color:#000"><span>10 000 000</span></div>
<div class="ct r" style="left:1350.05px;top:526.3px;height:24px;width:89.75px;color:#000"><span>10 000 000</span></div>
<div class="ct l m" style="left:241.25px;top:550.3px;height:42.2px;width:81.25px;color:#000"><span>Транспор<br>т</span></div>
<div class="ct r m" style="left:322.5px;top:550.3px;height:42.2px;width:90px;color:#000"><span>3 500 000</span></div>
<div class="ct r m" style="left:412.5px;top:550.3px;height:42.2px;width:129.8px;color:#000"><span>2 500 000</span></div>
<div class="ct r m" style="left:542.3px;top:550.3px;height:42.2px;width:89.75px;color:#000"><span>3 500 000</span></div>
<div class="ct r m" style="left:632.05px;top:550.3px;height:42.2px;width:89.75px;color:#000"><span>3 500 000</span></div>
<div class="ct r m" style="left:721.8px;top:550.3px;height:42.2px;width:89.75px;color:#000"><span>3 500 000</span></div>
<div class="ct r m" style="left:811.55px;top:550.3px;height:42.2px;width:89.75px;color:#000"><span>3 500 000</span></div>
<div class="ct r m" style="left:901.3px;top:550.3px;height:42.2px;width:89.75px;color:#000"><span>3 500 000</span></div>
<div class="ct r m" style="left:991.05px;top:550.3px;height:42.2px;width:89.75px;color:#000"><span>3 500 000</span></div>
<div class="ct r m" style="left:1080.8px;top:550.3px;height:42.2px;width:89.75px;color:#000"><span>3 500 000</span></div>
<div class="ct r m" style="left:1170.55px;top:550.3px;height:42.2px;width:89.75px;color:#000"><span>3 500 000</span></div>
<div class="ct r m" style="left:1260.3px;top:550.3px;height:42.2px;width:89.75px;color:#000"><span>3 500 000</span></div>
<div class="ct r m" style="left:1350.05px;top:550.3px;height:42.2px;width:89.75px;color:#000"><span>3 500 000</span></div>
<div class="ct l m" style="left:241.25px;top:592.5px;height:42.2px;width:81.25px;color:#000"><span>Оборудо<br>вание</span></div>
<div class="ct r m" style="left:322.5px;top:592.5px;height:42.2px;width:90px;color:#000"><span>100 000</span></div>
<div class="ct r m" style="left:412.5px;top:592.5px;height:42.2px;width:129.8px;color:#000"><span>100 000</span></div>
<div class="ct r m" style="left:542.3px;top:592.5px;height:42.2px;width:89.75px;color:#000"><span>100 000</span></div>
<div class="ct r m" style="left:632.05px;top:592.5px;height:42.2px;width:89.75px;color:#000"><span>100 000</span></div>
<div class="ct r m" style="left:721.8px;top:592.5px;height:42.2px;width:89.75px;color:#000"><span>100 000</span></div>
<div class="ct r m" style="left:811.55px;top:592.5px;height:42.2px;width:89.75px;color:#000"><span>100 000</span></div>
<div class="ct r m" style="left:901.3px;top:592.5px;height:42.2px;width:89.75px;color:#000"><span>100 000</span></div>
<div class="ct r m" style="left:991.05px;top:592.5px;height:42.2px;width:89.75px;color:#000"><span>100 000</span></div>
<div class="ct r m" style="left:1080.8px;top:592.5px;height:42.2px;width:89.75px;color:#000"><span>100 000</span></div>
<div class="ct r m" style="left:1170.55px;top:592.5px;height:42.2px;width:89.75px;color:#000"><span>100 000</span></div>
<div class="ct r m" style="left:1260.3px;top:592.5px;height:42.2px;width:89.75px;color:#000"><span>100 000</span></div>
<div class="ct r m" style="left:1350.05px;top:592.5px;height:42.2px;width:89.75px;color:#000"><span>100 000</span></div>
<div class="ct l m" style="left:241.25px;top:634.7px;height:42.3px;width:81.25px;color:#000"><span>Офисная<br>техника</span></div>
<div class="ct r m" style="left:322.5px;top:634.7px;height:42.3px;width:90px;color:#000"><span>12 000 000</span></div>
<div class="ct r m" style="left:412.5px;top:634.7px;height:42.3px;width:129.8px;color:#000"><span>13 000 000</span></div>
<div class="ct r m" style="left:542.3px;top:634.7px;height:42.3px;width:89.75px;color:#000"><span>14 000 000</span></div>
<div class="ct r m" style="left:632.05px;top:634.7px;height:42.3px;width:89.75px;color:#000"><span>14 000 000</span></div>
<div class="ct r m" style="left:721.8px;top:634.7px;height:42.3px;width:89.75px;color:#000"><span>14 000 000</span></div>
<div class="ct r m" style="left:811.55px;top:634.7px;height:42.3px;width:89.75px;color:#000"><span>14 000 000</span></div>
<div class="ct r m" style="left:901.3px;top:634.7px;height:42.3px;width:89.75px;color:#000"><span>14 000 000</span></div>
<div class="ct r m" style="left:991.05px;top:634.7px;height:42.3px;width:89.75px;color:#000"><span>14 000 000</span></div>
<div class="ct r m" style="left:1080.8px;top:634.7px;height:42.3px;width:89.75px;color:#000"><span>14 000 000</span></div>
<div class="ct r m" style="left:1170.55px;top:634.7px;height:42.3px;width:89.75px;color:#000"><span>14 000 000</span></div>
<div class="ct r m" style="left:1260.3px;top:634.7px;height:42.3px;width:89.75px;color:#000"><span>14 000 000</span></div>
<div class="ct r m" style="left:1350.05px;top:634.7px;height:42.3px;width:89.75px;color:#000"><span>14 000 000</span></div>
<div class="ct l m" style="left:241.25px;top:677px;height:42.4px;width:81.25px;color:#000"><span>Офисная<br>мебель</span></div>
<div class="ct r m" style="left:322.5px;top:677px;height:42.4px;width:90px;color:#000"><span>200 000</span></div>
<div class="ct r m" style="left:412.5px;top:677px;height:42.4px;width:129.8px;color:#000"><span>200 000</span></div>
<div class="ct r m" style="left:542.3px;top:677px;height:42.4px;width:89.75px;color:#000"><span>200 000</span></div>
<div class="ct r m" style="left:632.05px;top:677px;height:42.4px;width:89.75px;color:#000"><span>200 000</span></div>
<div class="ct r m" style="left:721.8px;top:677px;height:42.4px;width:89.75px;color:#000"><span>200 000</span></div>
<div class="ct r m" style="left:811.55px;top:677px;height:42.4px;width:89.75px;color:#000"><span>200 000</span></div>
<div class="ct r m" style="left:901.3px;top:677px;height:42.4px;width:89.75px;color:#000"><span>200 000</span></div>
<div class="ct r m" style="left:991.05px;top:677px;height:42.4px;width:89.75px;color:#000"><span>200 000</span></div>
<div class="ct r m" style="left:1080.8px;top:677px;height:42.4px;width:89.75px;color:#000"><span>200 000</span></div>
<div class="ct r m" style="left:1170.55px;top:677px;height:42.4px;width:89.75px;color:#000"><span>200 000</span></div>
<div class="ct r m" style="left:1260.3px;top:677px;height:42.4px;width:89.75px;color:#000"><span>200 000</span></div>
<div class="ct r m" style="left:1350.05px;top:677px;height:42.4px;width:89.75px;color:#000"><span>200 000</span></div>
<div class="ct l" style="left:241.25px;top:719.4px;height:24.1px;width:81.25px;color:#000"><span>Прочее</span></div>
<div class="ct r" style="left:322.5px;top:719.4px;height:24.1px;width:90px;color:#000"><span>320 000</span></div>
<div class="ct r" style="left:412.5px;top:719.4px;height:24.1px;width:129.8px;color:#000"><span>320 000</span></div>
<div class="ct r" style="left:542.3px;top:719.4px;height:24.1px;width:89.75px;color:#000"><span>320 000</span></div>
<div class="ct r" style="left:632.05px;top:719.4px;height:24.1px;width:89.75px;color:#000"><span>320 000</span></div>
<div class="ct r" style="left:721.8px;top:719.4px;height:24.1px;width:89.75px;color:#000"><span>320 000</span></div>
<div class="ct r" style="left:811.55px;top:719.4px;height:24.1px;width:89.75px;color:#000"><span>320 000</span></div>
<div class="ct r" style="left:901.3px;top:719.4px;height:24.1px;width:89.75px;color:#000"><span>320 000</span></div>
<div class="ct r" style="left:991.05px;top:719.4px;height:24.1px;width:89.75px;color:#000"><span>320 000</span></div>
<div class="ct r" style="left:1080.8px;top:719.4px;height:24.1px;width:89.75px;color:#000"><span>320 000</span></div>
<div class="ct r" style="left:1170.55px;top:719.4px;height:24.1px;width:89.75px;color:#000"><span>320 000</span></div>
<div class="ct r" style="left:1260.3px;top:719.4px;height:24.1px;width:89.75px;color:#000"><span>320 000</span></div>
<div class="ct r" style="left:1350.05px;top:719.4px;height:24.1px;width:89.75px;color:#000"><span>320 000</span></div>
<div class="ct l m" style="left:241.25px;top:767.4px;height:63.6px;width:81.25px;color:#000"><span>Нематер<br>иальные<br>активы</span></div>
<div class="ct r m" style="left:322.5px;top:767.4px;height:63.6px;width:90px;color:#000"><span>500 000</span></div>
<div class="ct r m" style="left:412.5px;top:767.4px;height:63.6px;width:129.8px;color:#000"><span>620 000</span></div>
<div class="ct r m" style="left:542.3px;top:767.4px;height:63.6px;width:89.75px;color:#000"><span>770 000</span></div>
<div class="ct r m" style="left:632.05px;top:767.4px;height:63.6px;width:89.75px;color:#000"><span>770 000</span></div>
<div class="ct r m" style="left:721.8px;top:767.4px;height:63.6px;width:89.75px;color:#000"><span>770 000</span></div>
<div class="ct r m" style="left:811.55px;top:767.4px;height:63.6px;width:89.75px;color:#000"><span>770 000</span></div>
<div class="ct r m" style="left:901.3px;top:767.4px;height:63.6px;width:89.75px;color:#000"><span>770 000</span></div>
<div class="ct r m" style="left:991.05px;top:767.4px;height:63.6px;width:89.75px;color:#000"><span>770 000</span></div>
<div class="ct r m" style="left:1080.8px;top:767.4px;height:63.6px;width:89.75px;color:#000"><span>770 000</span></div>
<div class="ct r m" style="left:1170.55px;top:767.4px;height:63.6px;width:89.75px;color:#000"><span>770 000</span></div>
<div class="ct r m" style="left:1260.3px;top:767.4px;height:63.6px;width:89.75px;color:#000"><span>770 000</span></div>
<div class="ct r m" style="left:1350.05px;top:767.4px;height:63.6px;width:89.75px;color:#000"><span>770 000</span></div>
<div class="ct l m" style="left:241.25px;top:831px;height:84.3px;width:81.25px;color:#000"><span>Програм<br>мное<br>обеспече<br>ние</span></div>
<div class="ct r m" style="left:322.5px;top:831px;height:84.3px;width:90px;color:#000"><span>50 000</span></div>
<div class="ct r m" style="left:412.5px;top:831px;height:84.3px;width:129.8px;color:#000"><span>100 000</span></div>
<div class="ct r m" style="left:542.3px;top:831px;height:84.3px;width:89.75px;color:#000"><span>50 000</span></div>
<div class="ct r m" style="left:632.05px;top:831px;height:84.3px;width:89.75px;color:#000"><span>50 000</span></div>
<div class="ct r m" style="left:721.8px;top:831px;height:84.3px;width:89.75px;color:#000"><span>50 000</span></div>
<div class="ct r m" style="left:811.55px;top:831px;height:84.3px;width:89.75px;color:#000"><span>50 000</span></div>
<div class="ct r m" style="left:901.3px;top:831px;height:84.3px;width:89.75px;color:#000"><span>50 000</span></div>
<div class="ct r m" style="left:991.05px;top:831px;height:84.3px;width:89.75px;color:#000"><span>50 000</span></div>
<div class="ct r m" style="left:1080.8px;top:831px;height:84.3px;width:89.75px;color:#000"><span>50 000</span></div>
<div class="ct r m" style="left:1170.55px;top:831px;height:84.3px;width:89.75px;color:#000"><span>50 000</span></div>
<div class="ct r m" style="left:1260.3px;top:831px;height:84.3px;width:89.75px;color:#000"><span>50 000</span></div>
<div class="ct r m" style="left:1350.05px;top:831px;height:84.3px;width:89.75px;color:#000"><span>50 000</span></div>
<div class="ct l m" style="left:241.25px;top:915.3px;height:42.3px;width:81.25px;color:#000"><span>Сайты,<br>лендинги</span></div>
<div class="ct r m" style="left:322.5px;top:915.3px;height:42.3px;width:90px;color:#000"><span>100 000</span></div>
<div class="ct r m" style="left:412.5px;top:915.3px;height:42.3px;width:129.8px;color:#000"><span>100 000</span></div>
<div class="ct r m" style="left:542.3px;top:915.3px;height:42.3px;width:89.75px;color:#000"><span>100 000</span></div>
<div class="ct r m" style="left:632.05px;top:915.3px;height:42.3px;width:89.75px;color:#000"><span>100 000</span></div>
<div class="ct r m" style="left:721.8px;top:915.3px;height:42.3px;width:89.75px;color:#000"><span>100 000</span></div>
<div class="ct r m" style="left:811.55px;top:915.3px;height:42.3px;width:89.75px;color:#000"><span>100 000</span></div>
<div class="ct r m" style="left:901.3px;top:915.3px;height:42.3px;width:89.75px;color:#000"><span>100 000</span></div>
<div class="ct r m" style="left:991.05px;top:915.3px;height:42.3px;width:89.75px;color:#000"><span>100 000</span></div>
<div class="ct r m" style="left:1080.8px;top:915.3px;height:42.3px;width:89.75px;color:#000"><span>100 000</span></div>
<div class="ct r m" style="left:1170.55px;top:915.3px;height:42.3px;width:89.75px;color:#000"><span>100 000</span></div>
<div class="ct r m" style="left:1260.3px;top:915.3px;height:42.3px;width:89.75px;color:#000"><span>100 000</span></div>
<div class="ct r m" style="left:1350.05px;top:915.3px;height:42.3px;width:89.75px;color:#000"><span>100 000</span></div>
<div class="ct l m" style="left:241.25px;top:957.6px;height:84.8px;width:81.25px;color:#000"><span>Торговые<br>марки,<br>товарн.<br>зн</span></div>
<div class="ct r m" style="left:322.5px;top:957.6px;height:84.8px;width:90px;color:#000"><span>230 000</span></div>
<div class="ct r m" style="left:412.5px;top:957.6px;height:84.8px;width:129.8px;color:#000"><span>300 000</span></div>
<div class="ct r m" style="left:542.3px;top:957.6px;height:84.8px;width:89.75px;color:#000"><span>500 000</span></div>
<div class="ct r m" style="left:632.05px;top:957.6px;height:84.8px;width:89.75px;color:#000"><span>500 000</span></div>
<div class="ct r m" style="left:721.8px;top:957.6px;height:84.8px;width:89.75px;color:#000"><span>500 000</span></div>
<div class="ct r m" style="left:811.55px;top:957.6px;height:84.8px;width:89.75px;color:#000"><span>500 000</span></div>
<div class="ct r m" style="left:901.3px;top:957.6px;height:84.8px;width:89.75px;color:#000"><span>500 000</span></div>
<div class="ct r m" style="left:991.05px;top:957.6px;height:84.8px;width:89.75px;color:#000"><span>500 000</span></div>
<div class="ct r m" style="left:1080.8px;top:957.6px;height:84.8px;width:89.75px;color:#000"><span>500 000</span></div>
<div class="ct r m" style="left:1170.55px;top:957.6px;height:84.8px;width:89.75px;color:#000"><span>500 000</span></div>
<div class="ct r m" style="left:1260.3px;top:957.6px;height:84.8px;width:89.75px;color:#000"><span>500 000</span></div>
<div class="ct r m" style="left:1350.05px;top:957.6px;height:84.8px;width:89.75px;color:#000"><span>500 000</span></div>
<div class="ct l" style="left:241.25px;top:1042.4px;height:24.1px;width:81.25px;color:#000"><span>Лицензии</span></div>
<div class="ct r" style="left:322.5px;top:1042.4px;height:24.1px;width:90px;color:#000"><span>120 000</span></div>
<div class="ct r" style="left:412.5px;top:1042.4px;height:24.1px;width:129.8px;color:#000"><span>120 000</span></div>
<div class="ct r" style="left:542.3px;top:1042.4px;height:24.1px;width:89.75px;color:#000"><span>120 000</span></div>
<div class="ct r" style="left:632.05px;top:1042.4px;height:24.1px;width:89.75px;color:#000"><span>120 000</span></div>
<div class="ct r" style="left:721.8px;top:1042.4px;height:24.1px;width:89.75px;color:#000"><span>120 000</span></div>
<div class="ct r" style="left:811.55px;top:1042.4px;height:24.1px;width:89.75px;color:#000"><span>120 000</span></div>
<div class="ct r" style="left:901.3px;top:1042.4px;height:24.1px;width:89.75px;color:#000"><span>120 000</span></div>
<div class="ct r" style="left:991.05px;top:1042.4px;height:24.1px;width:89.75px;color:#000"><span>120 000</span></div>
<div class="ct r" style="left:1080.8px;top:1042.4px;height:24.1px;width:89.75px;color:#000"><span>120 000</span></div>
<div class="ct r" style="left:1170.55px;top:1042.4px;height:24.1px;width:89.75px;color:#000"><span>120 000</span></div>
<div class="ct r" style="left:1260.3px;top:1042.4px;height:24.1px;width:89.75px;color:#000"><span>120 000</span></div>
<div class="ct r" style="left:1350.05px;top:1042.4px;height:24.1px;width:89.75px;color:#000"><span>120 000</span></div>
<div class="ct l m" style="left:241.25px;top:1090.6px;height:42.3px;width:81.25px;color:#000"><span>Оборотны<br>е активы</span></div>
<div id="colhdr"></div>
<div class="chd" style="left:240.65px;width:81.25px">A</div>
<div class="chd" style="left:321.9px;width:90px">B</div>
<div class="chd" style="left:411.9px;width:129.8px">C</div>
<div class="chd" style="left:541.7px;width:89.75px">D</div>
<div class="chd" style="left:631.45px;width:89.75px">E</div>
<div class="chd" style="left:721.2px;width:89.75px">F</div>
<div class="chd" style="left:810.95px;width:89.75px">G</div>
<div class="chd" style="left:900.7px;width:89.75px">H</div>
<div class="chd" style="left:990.45px;width:89.75px">I</div>
<div class="chd" style="left:1080.2px;width:89.75px">J</div>
<div class="chd" style="left:1169.95px;width:89.75px">K</div>
<div class="chd" style="left:1259.7px;width:89.75px">L</div>
<div class="chd" style="left:1349.45px;width:89.75px">M</div>
<div id="rowhdr"></div>
<div class="rh" style="top:327px;height:24.3px"><span>1</span></div>
<div class="rh" style="top:351.3px;height:23.8px"><span>2</span></div>
<div class="rh" style="top:375.1px;height:63.4px"><span>3</span></div>
<div class="rh" style="top:438.5px;height:63.3px"><span>4</span></div>
<div class="rh" style="top:501.8px;height:24.5px"><span>5</span></div>
<div class="rh" style="top:526.3px;height:24px"><span>6</span></div>
<div class="rh" style="top:550.3px;height:42.2px"><span>7</span></div>
<div class="rh" style="top:592.5px;height:42.2px"><span>8</span></div>
<div class="rh" style="top:634.7px;height:42.3px"><span>9</span></div>
<div class="rh" style="top:677px;height:42.4px"><span>10</span></div>
<div class="rh" style="top:719.4px;height:24.1px"><span>11</span></div>
<div class="rh" style="top:743.5px;height:23.9px"><span>12</span></div>
<div class="rh" style="top:767.4px;height:63.6px"><span>13</span></div>
<div class="rh" style="top:831px;height:84.3px"><span>14</span></div>
<div class="rh" style="top:915.3px;height:42.3px"><span>15</span></div>
<div class="rh" style="top:957.6px;height:84.8px"><span>16</span></div>
<div class="rh" style="top:1042.4px;height:24.1px"><span>17</span></div>
<div class="rh" style="top:1066.5px;height:24.1px"><span>18</span></div>
<div class="rh" style="top:1090.6px;height:42.3px"><span>19</span></div>
<div class="abs" style="left:240.8px;top:327px;width:1px;height:777px;background:#c9c9c9"></div>
<div id="corner"></div>
<div id="hscroll"></div>
<div id="hsbtn"></div>
<div id="hsthumb"></div>
<!-- left panel icons -->
<svg style="left:158px;top:271px" width="51" height="200" viewBox="158 271 51 200" fill="none" stroke="#444" stroke-width="1.4">
 <circle cx="181.8" cy="308.2" r="6.8"/>
 <path d="M186.6 313l5 5" stroke-width="1.6"/>
 <path d="M174.5 348.8h18q1.2 0 1.2 1.2v11.6q0 1.2-1.2 1.2h-7.5l-2.5 2.8-2.5-2.8h-5.5q-1.2 0-1.2-1.2v-11.6q0-1.2 1.2-1.2z"/>
 <path d="M177 352.5h13.5M177 355.3h13.5M177 358.1h9.5" stroke-width="1.1"/>
 <path d="M183 407.3l3.4 4.4 7.6-8.4" stroke-width="1.7"/>
 <circle cx="184" cy="453" r="9"/>
 <path d="M184 451v6.8" stroke-width="1.6"/>
 <circle cx="184" cy="447.6" r="1" fill="#444" stroke="none"/>
</svg>
<div class="abs" style="left:172.6px;top:396px;font-size:10px;font-weight:bold;color:#444;letter-spacing:-0.6px;line-height:11px;transform:scaleY(0.82);transform-origin:0 100%">АБВ</div>
<!-- name box chevron -->
<svg style="left:317px;top:281px" width="10" height="6" viewBox="0 0 10 6" fill="none" stroke="#444" stroke-width="1.2"><path d="M1 1l4 4 4-4"/></svg>
<!-- corner triangle -->
<svg style="left:209px;top:303px" width="32" height="24" viewBox="0 0 32 24"><path d="M13.3 20.5L29.2 4.5v16z" fill="#7b9332" stroke="#f6f9e6" stroke-width=".7"/></svg>
<!-- logo clock -->
<svg style="left:247.5px;top:158.5px" width="11" height="11" viewBox="0 0 11 11" fill="none" stroke="#fff" stroke-width="1.1"><circle cx="5.5" cy="5.5" r="4.3"/><path d="M5.5 3v2.7h2"/></svg>

</body>
</html>
